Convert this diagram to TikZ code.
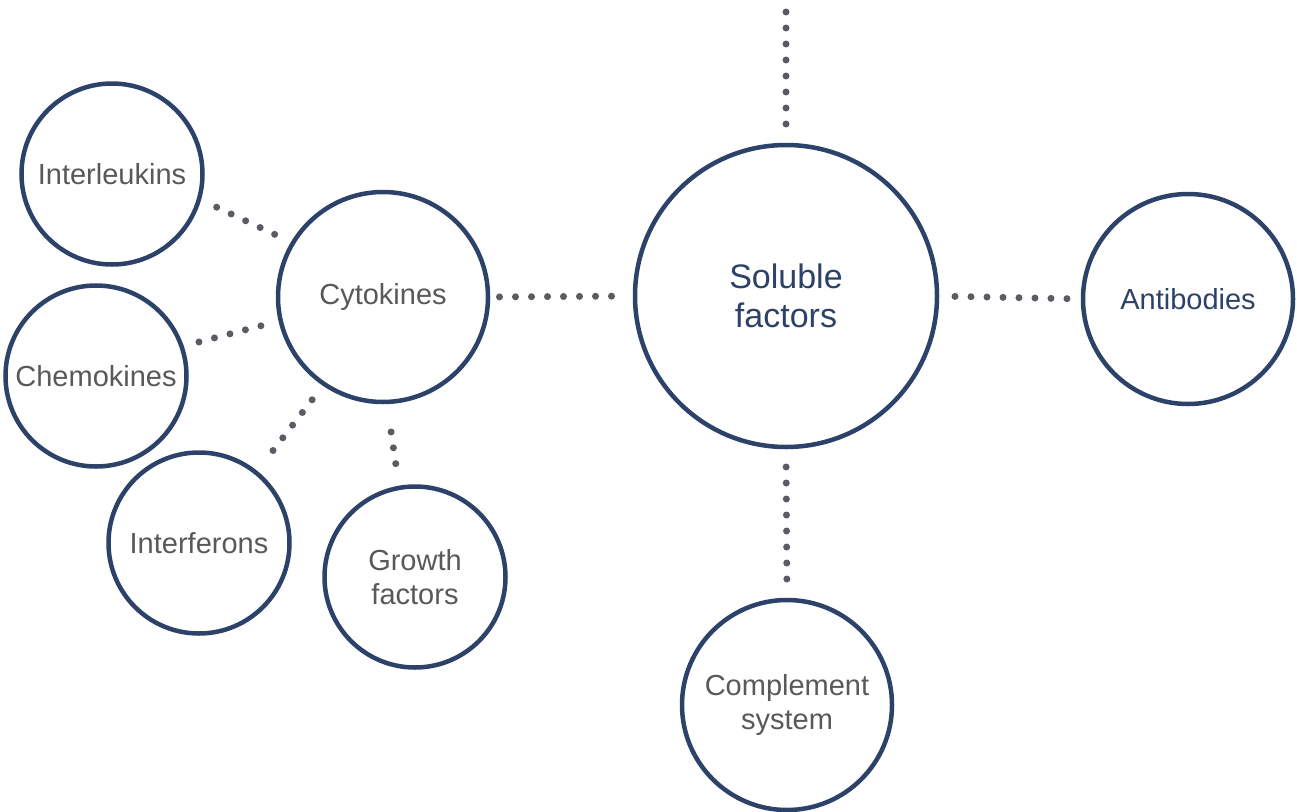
\documentclass[tikz,border=0pt]{standalone}
\usepackage{fontspec}
\setmainfont{Liberation Sans}
\usetikzlibrary{positioning}
\definecolor{navy}{RGB}{45,66,105}
\definecolor{dotgrey}{RGB}{90,91,99}
\definecolor{txtgrey}{RGB}{89,89,89}

\begin{document}
\begin{tikzpicture}[
  x=1pt,y=-1pt,
  bubble/.style={circle,draw=navy,line width=4.5pt,fill=white,align=center,
    inner sep=0pt,outer sep=0pt,text=txtgrey,font=\fontsize{29}{34}\selectfont},
  leaf/.style={bubble,minimum size=181pt},
  branch/.style={bubble,minimum size=210pt},
  hub/.style={bubble,minimum size=302pt,text=navy,font=\fontsize{34}{39}\selectfont},
  link/.style={draw=dotgrey,line width=7pt,line cap=round,dash pattern=on 0pt off 16pt}
]
  \useasboundingbox (0,0) rectangle (1297,811);

  \node[hub] (soluble) at (786,296) {Soluble\\factors};
  \node[branch,text=navy] (antibodies) at (1188,299) {Antibodies};
  \node[branch] (complement) at (787,705) {Complement\\system};
  \node[branch] (cytokines) at (383,297) {Cytokines};

  \node[leaf] (interleukins) at (112,174) {Interleukins};
  \node[leaf] (chemokines) at (96,376) {Chemokines};
  \node[leaf] (interferons) at (199,543) {Interferons};
  \node[leaf] (growth) at (415,577) {Growth\\factors};

  % the upper link runs off the page, so it starts at a free coordinate
  \coordinate (up) at (786,12);

  \draw[link,shorten >=20.5pt] (up) -- (soluble.north);
  \draw[link,shorten <=11.5pt,shorten >=22.5pt] (cytokines.east) -- (soluble.west);
  \draw[link,shorten <=18pt,shorten >=15.5pt] (soluble.east) -- (antibodies.west);
  \draw[link,shorten <=20pt,shorten >=19.5pt] (soluble.south) -- (complement.north);

  \draw[link,shorten <=19.5pt,shorten >=20pt] (interleukins.-16) -- (cytokines.149);
  \draw[link,shorten <=18pt,shorten >=18pt] (chemokines.19) -- (cytokines.193);
  \draw[link,shorten <=28pt,shorten >=16pt] (interferons.51) -- (cytokines.236);
  \draw[link,shorten <=24.5pt,shorten >=15pt] (growth.100) -- (cytokines.272);
\end{tikzpicture}
\end{document}
